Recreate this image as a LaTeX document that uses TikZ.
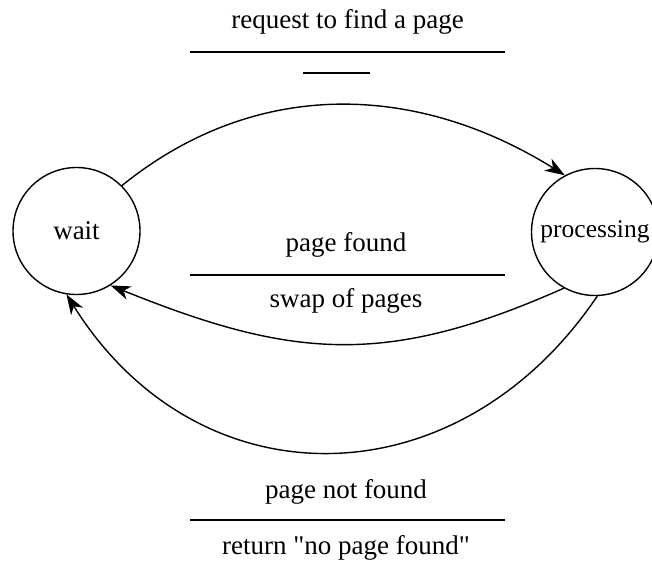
\documentclass[tikz,border=0pt]{standalone}
\usepackage{fontspec}
\setmainfont{Liberation Serif}
\usetikzlibrary{arrows.meta}
\begin{document}
\begin{tikzpicture}[x=1pt,y=-1pt,
  state/.style={draw,circle,line width=1.4pt,minimum size=127pt,inner sep=0pt,font=\fontsize{27}{32}\selectfont},
  lbl/.style={font=\fontsize{27}{32}\selectfont,inner sep=0pt},
  edge/.style={line width=1.4pt,-{Stealth[length=20pt,width=14pt,inset=6pt]}},
  rule/.style={line width=1.2pt}]
\useasboundingbox (0,0) rectangle (652,562);
\node[state] (wait) at (76.5,231) {wait};
\node[state,font=\fontsize{25.5}{30}\selectfont] (proc) at (595,232) {processing};
\draw[edge] (wait.45) to[out=39,in=148] (proc.118);
\draw[edge] (proc.241) to[out=204,in=338,looseness=1.1] (wait.302);
\draw[edge] (proc.272) to[out=236,in=302,looseness=1.2] (wait.261);
\node[lbl] (t1) at (347.5,22) {request to find a page};
\coordinate (r1a) at (190,52); \coordinate (r1b) at (505,52);
\draw[rule] (r1a) -- (r1b);
\coordinate (r2a) at (303,73); \coordinate (r2b) at (370,73);
\draw[rule] (r2a) -- (r2b);
\node[lbl] (t2) at (346,245) {page found};
\coordinate (r3a) at (190,275); \coordinate (r3b) at (505,275);
\draw[rule] (r3a) -- (r3b);
\node[lbl] (t3) at (346,301) {swap of pages};
\node[lbl] (t4) at (346,492) {page not found};
\coordinate (r4a) at (190,520); \coordinate (r4b) at (505,520);
\draw[rule] (r4a) -- (r4b);
\node[lbl] (t5) at (346,548) {return \textquotedbl no page found\textquotedbl};
\end{tikzpicture}
\end{document}
